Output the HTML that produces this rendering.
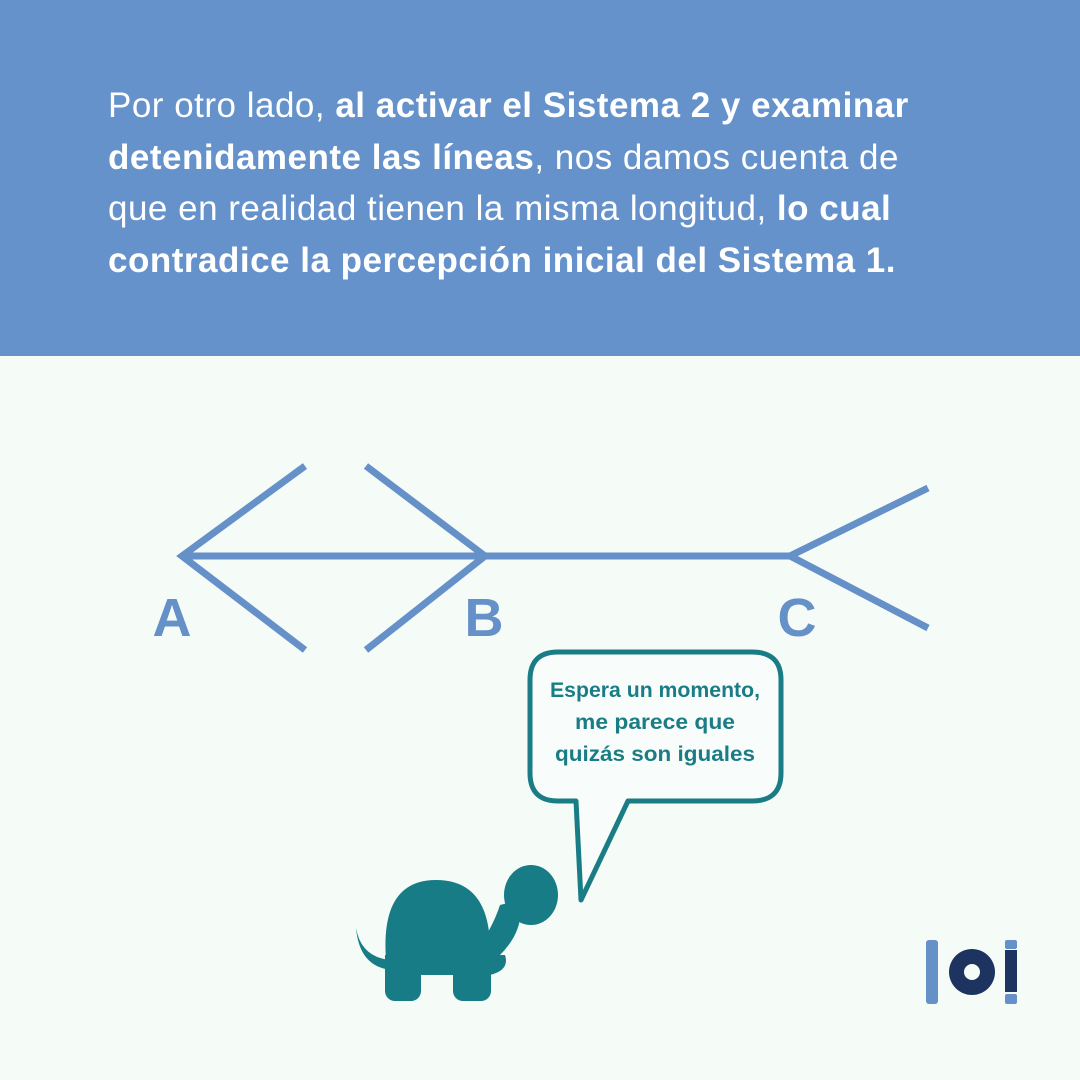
<!DOCTYPE html>
<html><head><meta charset="utf-8"><style>
body{margin:0;width:1080px;height:1080px;background:#f5fcf8;position:relative;overflow:hidden;font-family:"Liberation Sans",sans-serif}
#band{position:absolute;left:0;top:0;width:1080px;height:356px;background:#6592cb}
#txt{position:absolute;left:108px;top:80px;width:960px;color:#fff;font-size:35px;line-height:51.5px;letter-spacing:0.5px;white-space:nowrap}
#txt b{font-weight:bold}
svg{position:absolute;left:0;top:0}
</style></head><body>
<div id="band"></div>
<div id="txt">Por otro lado, <b>al activar el Sistema 2 y examinar</b><br><b>detenidamente las líneas</b>, nos damos cuenta de<br>que en realidad tienen la misma longitud, <b>lo cual</b><br><b>contradice la percepción inicial del Sistema 1.</b></div>
<svg width="1080" height="1080">
<g stroke="#6590c8" stroke-width="7" fill="none">
<line x1="182" y1="556" x2="790" y2="556"/>
<polyline points="305,466 182,556 305,650"/>
<polyline points="366,466 485,556 366,650"/>
<polyline points="928,488 790,556 928,628"/>
</g>
<g fill="#6590c8" font-family="Liberation Sans" font-weight="bold" font-size="54" text-anchor="middle">
<text x="172" y="636">A</text>
<text x="484" y="636">B</text>
<text x="797" y="636">C</text>
</g>
<path d="M558,652 H752 Q781,652 781,680 V773 Q781,801 752,801 H628 L581,900 L576,801 H558 Q530,801 530,773 V680 Q530,652 558,652 Z" fill="#f8fdfb" stroke="#1a7c85" stroke-width="5" stroke-linejoin="round"/>
<g fill="#1a7c85" font-family="Liberation Sans" font-weight="bold" font-size="21" text-anchor="middle">
<text x="655" y="697" textLength="210" lengthAdjust="spacingAndGlyphs">Espera un momento,</text>
<text x="655" y="729" textLength="160" lengthAdjust="spacingAndGlyphs">me parece que</text>
<text x="655" y="761" textLength="200" lengthAdjust="spacingAndGlyphs">quizás son iguales</text>
</g>
<g fill="#177c85">
<path d="M386,960 Q380,880 436,880 Q492,880 490,955 Z"/>
<path d="M356,928 Q362,962 400,960 L400,970 Q360,972 356,928 Z"/>
<path d="M470,960 Q492,930 500,905 L520,900 Q525,930 500,955 Z"/>
<ellipse cx="531" cy="895" rx="27" ry="30"/>
<path d="M385,955 H505 Q510,970 490,975 H385 Z"/>
<rect x="385" y="955" width="36" height="46" rx="10"/>
<rect x="453" y="955" width="38" height="46" rx="10"/>
</g>
<g>
<rect x="926" y="940" width="12" height="64" rx="3" fill="#6590c8"/>
<circle cx="972" cy="972" r="23" fill="#1d3461"/>
<circle cx="972" cy="972" r="8" fill="#f5fcf8"/>
<rect x="1005" y="940" width="12" height="9" rx="2" fill="#6590c8"/>
<rect x="1005" y="950" width="12" height="42" fill="#1d3461"/>
<rect x="1005" y="994" width="12" height="10" rx="2" fill="#6590c8"/>
</g>
</svg>
</body></html>
